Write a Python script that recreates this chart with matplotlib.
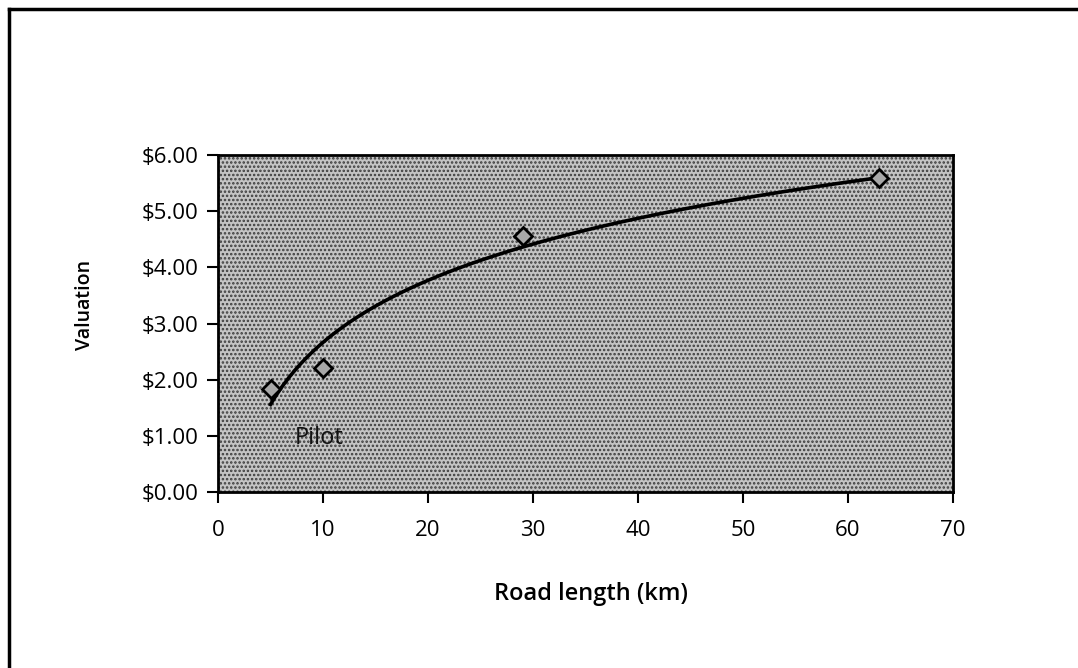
import matplotlib
matplotlib.use('Agg')
import matplotlib.pyplot as plt
from matplotlib.lines import Line2D
from matplotlib.patches import Rectangle
from matplotlib.ticker import FuncFormatter
import numpy as np

plt.rcParams['font.family'] = ['Open Sans', 'DejaVu Sans']
plt.rcParams['hatch.linewidth'] = 1.2

# survey points: road length (km) vs valuation ($)
road_km = [5, 10, 29, 63]
valuation = [1.83, 2.21, 4.55, 5.59]
pilot_label = 'Pilot'

fig = plt.figure(figsize=(10.78, 6.68), dpi=100)
ax = fig.add_axes([218 / 1078, 1 - 492 / 668, 735 / 1078, 337 / 668])

# stippled grey plot area
ax.patch.set_facecolor('#c4c4c4')
ax.add_patch(Rectangle((0, 0), 1, 1, transform=ax.transAxes, facecolor='none',
                       edgecolor='#3c3c3c', hatch='....', linewidth=0, zorder=0))

# logarithmic trend line fitted to the points
b, a = np.polyfit(np.log(road_km), valuation, 1)
xs = np.linspace(min(road_km), max(road_km), 200)
ax.plot(xs, a + b * np.log(xs), color='black', lw=2.6, zorder=3)

ax.plot(road_km, valuation, linestyle='none', marker='D', markersize=9,
        markerfacecolor='#a8a8a8', markeredgecolor='black', markeredgewidth=2,
        zorder=4)

ax.text(7.3, 0.96, pilot_label, fontsize=17, va='center', ha='left', color='#111111')

ax.set_xlim(0, 70)
ax.set_ylim(0, 6)
ax.set_xticks(range(0, 71, 10))
ax.set_yticks(range(0, 7))
ax.yaxis.set_major_formatter(FuncFormatter(lambda v, p: f'${v:.2f}'))
ax.tick_params(direction='out', length=8, width=1.5, labelsize=16, colors='black')
ax.tick_params(axis='x', pad=12)
ax.tick_params(axis='y', pad=6)
for s in ax.spines.values():
    s.set_linewidth(2)
    s.set_color('black')

ax.set_xlabel('Road length (km)', fontsize=17, fontweight='semibold')
ax.set_ylabel('Valuation', fontsize=14, fontweight='semibold')
ax.xaxis.set_label_coords(0.507, -0.267)
ax.yaxis.set_label_coords(-0.167, 0.555)

# outer frame (top and left edges visible)
fig.add_artist(Line2D([9 / 1078, 1], [1 - 9 / 668, 1 - 9 / 668], color='black', lw=2.5))
fig.add_artist(Line2D([9 / 1078, 9 / 1078], [0, 1 - 9 / 668], color='black', lw=2.5))

fig.savefig('out.png', dpi=100)
